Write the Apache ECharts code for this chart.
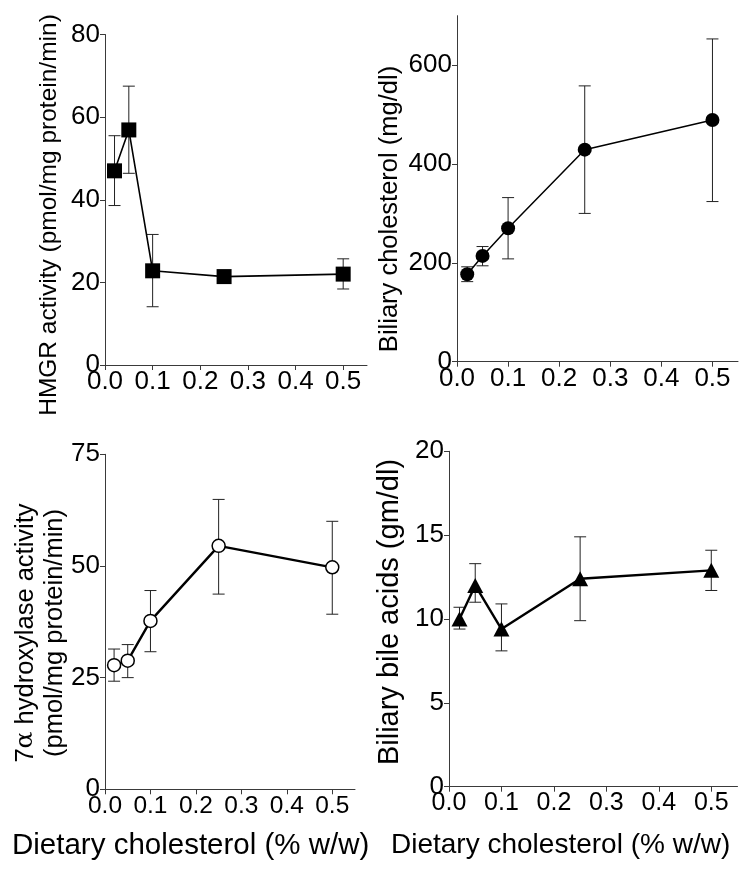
<!DOCTYPE html>
<html>
<head>
<meta charset="utf-8">
<script src="https://cdn.jsdelivr.net/npm/echarts@6/dist/echarts.min.js"></script>
<style>
html,body{margin:0;padding:0;background:#fff;}
#main{width:752px;height:873px;}
</style>
</head>
<body>
<div id="main"></div>
<script>
// ---- data ----
const dose = [0.02, 0.05, 0.1, 0.25, 0.5];
const xTicks = [0, 0.1, 0.2, 0.3, 0.4, 0.5];

const hmgrMean = [47.0, 56.9, 22.8, 21.4, 22.0];
const hmgrLow  = [38.6, 46.4, 14.1, 20.4, 18.4];
const hmgrHigh = [55.5, 67.5, 31.6, 22.4, 25.7];
const hmgrTicks = [0, 20, 40, 60, 80];

const cholMean = [177, 214, 270, 429, 489];
const cholLow  = [162, 194, 208, 300, 324];
const cholHigh = [192, 233, 332, 558, 653];
const cholTicks = [0, 200, 400, 600];

const hydrMean = [27.8, 28.8, 37.7, 54.5, 49.7];
const hydrLow  = [24.2, 25.0, 30.8, 43.7, 39.2];
const hydrHigh = [31.4, 32.4, 44.5, 64.9, 60.0];
const hydrTicks = [0, 25, 50, 75];

const bileMean = [10.0, 12.0, 9.4, 12.4, 12.9];
const bileLow  = [9.4, 11.0, 8.1, 9.9, 11.7];
const bileHigh = [10.7, 13.3, 10.9, 14.9, 14.1];
const bileTicks = [0, 5, 10, 15, 20];

const yNames = ['HMGR activity (pmol/mg protein/min)', 'Biliary cholesterol (mg/dl)',
  '7{a|α} hydroxylase activity\n(pmol/mg protein/min)', 'Biliary bile acids (gm/dl)'];
const xName = 'Dietary cholesterol (% w/w)';

const FONT = 'Liberation Sans, Arial, sans-serif';
const AXC = '#3a3a3a';

function xAxisCfg(gi, fs) {
  return {
    type: 'value', gridIndex: gi, min: 0, max: 0.55,
    axisLine: { show: true, lineStyle: { color: AXC, width: 1 } },
    axisTick: { show: true, length: 5, lineStyle: { color: AXC }, customValues: xTicks },
    axisLabel: { customValues: xTicks, formatter: v => v.toFixed(1), color: '#000', fontFamily: FONT, fontSize: fs, margin: 4 },
    splitLine: { show: false }
  };
}
function yAxisCfg(gi, max, ticks, fs) {
  return {
    type: 'value', gridIndex: gi, min: 0, max: max,
    axisLine: { show: true, lineStyle: { color: AXC, width: 1 } },
    axisTick: { show: true, length: 5, lineStyle: { color: AXC }, customValues: ticks },
    axisLabel: { customValues: ticks, color: '#000', fontFamily: FONT, fontSize: fs, margin: 5 },
    splitLine: { show: false }
  };
}
function errSeries(gi, lo, hi) {
  return {
    type: 'custom', xAxisIndex: gi, yAxisIndex: gi, z: 1, silent: true,
    data: dose.map((d, i) => [d, lo[i], hi[i]]),
    encode: { x: 0, y: [1, 2] },
    renderItem: function (params, api) {
      const x = api.value(0);
      const p1 = api.coord([x, api.value(1)]);
      const p2 = api.coord([x, api.value(2)]);
      const hw = 6;
      const st = { stroke: '#222', lineWidth: 1 };
      return {
        type: 'group', children: [
          { type: 'line', shape: { x1: p1[0], y1: p1[1], x2: p2[0], y2: p2[1] }, style: st },
          { type: 'line', shape: { x1: p1[0] - hw, y1: p1[1], x2: p1[0] + hw, y2: p1[1] }, style: st },
          { type: 'line', shape: { x1: p2[0] - hw, y1: p2[1], x2: p2[0] + hw, y2: p2[1] }, style: st }
        ]
      };
    }
  };
}
function lineSeries(gi, mean, symbol, size, itemStyle, lw) {
  return {
    type: 'line', xAxisIndex: gi, yAxisIndex: gi, z: 3,
    data: dose.map((d, i) => [d, mean[i]]),
    symbol: symbol, symbolSize: size, showAllSymbol: true,
    lineStyle: { color: '#000', width: lw },
    itemStyle: itemStyle, emphasis: { disabled: true }
  };
}
function vText(text, x, y, fs, extra) {
  return {
    type: 'text', x: x, y: y, rotation: Math.PI / 2, silent: true,
    style: Object.assign({ text: text, fill: '#000', font: fs + 'px ' + FONT, align: 'center', verticalAlign: 'middle' }, extra || {})
  };
}

const chart = echarts.init(document.getElementById('main'), null, { renderer: 'canvas' });
chart.setOption({
  animation: false,
  backgroundColor: '#fff',
  grid: [
    { left: 105, top: 34.5, width: 262, height: 330.5 },
    { left: 457, top: 15.7, width: 281, height: 346 },
    { left: 105, top: 454.3, width: 250, height: 335 },
    { left: 449, top: 451.3, width: 288.5, height: 335.4 }
  ],
  xAxis: [xAxisCfg(0, 26), xAxisCfg(1, 26), xAxisCfg(2, 24.5), xAxisCfg(3, 25)],
  yAxis: [
    yAxisCfg(0, 80, hmgrTicks, 26),
    yAxisCfg(1, 700, cholTicks, 26),
    yAxisCfg(2, 75, hydrTicks, 26),
    yAxisCfg(3, 20, bileTicks, 26)
  ],
  graphic: [
    vText(yNames[0], 49, 215, 24.5),
    vText(yNames[1], 390, 209, 25.5),
    vText(yNames[2], 40, 633, 25.5, { lineHeight: 29, rich: { a: { fontFamily: 'DejaVu Serif, serif', fontSize: 25, fill: '#000', lineHeight: 29 } } }),
    vText(yNames[3], 390, 612, 29),
    { type: 'text', left: 12, top: 831, silent: true, style: { text: xName, fill: '#000', font: '29.5px ' + FONT } },
    { type: 'text', left: 391, top: 831, silent: true, style: { text: xName, fill: '#000', font: '28px ' + FONT } }
  ],
  series: [
    errSeries(0, hmgrLow, hmgrHigh),
    lineSeries(0, hmgrMean, 'rect', 15, { color: '#000' }, 1.6),
    errSeries(1, cholLow, cholHigh),
    lineSeries(1, cholMean, 'circle', 14, { color: '#000' }, 1.5),
    errSeries(2, hydrLow, hydrHigh),
    lineSeries(2, hydrMean, 'circle', 13, { color: '#fff', borderColor: '#000', borderWidth: 1.5 }, 2.4),
    errSeries(3, bileLow, bileHigh),
    lineSeries(3, bileMean, 'triangle', [16, 15], { color: '#000' }, 2.4)
  ]
});
</script>
</body>
</html>
